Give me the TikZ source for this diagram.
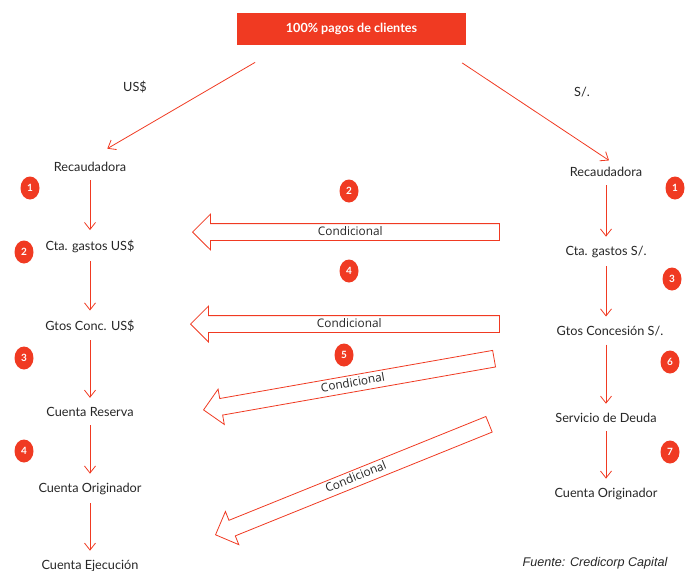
\documentclass[tikz,border=0pt]{standalone}
\usepackage{fontspec}
\setmainfont{Lato}
\newfontfamily\condfont{Open Sans}
\newfontfamily\srcfont{Liberation Sans}
\usepackage{xcolor}
\usetikzlibrary{arrows.meta,shapes.geometric,shapes.arrows}
\definecolor{rojo}{RGB}{240,58,34}

\begin{document}
\begin{tikzpicture}[x=1pt,y=-1pt,
        every node/.style={font=\fontsize{12.7}{14}\selectfont, text=black!85},
        flow/.style={draw=rojo, line width=0.8pt, -{Straight Barb[length=7pt,width=11pt]}},
        num/.style={ellipse, fill=rojo, text=white, font=\bfseries\fontsize{10}{10}\selectfont,
            minimum width=19pt, minimum height=23pt, inner sep=0pt},
        cond/.style={single arrow, draw=rojo, line width=0.8pt, fill=white, shape border rotate=180,
            single arrow head extend=9.5pt, font=\condfont\fontsize{11.8}{12}\selectfont,
            text height=8.5pt, text depth=2.5pt, inner ysep=2.5pt, inner xsep=0pt}]
        \useasboundingbox (0,0) rectangle (687,570);
        \node[fill=rojo, text=white, font=\bfseries\fontsize{12.6}{14}\selectfont,
            minimum width=229pt, minimum height=32pt] (pagos) at (351.5,29) {100\% pagos de clientes};
        \node (usd) at (135,87) {US\$};
        \node (sol) at (582,92) {S/.};
        \node (recL) at (90,167) {Recaudadora};
        \node (ctaL) at (90,246) {Cta. gastos US\$};
        \node (gtoL) at (90,326) {Gtos Conc. US\$};
        \node (resL) at (90,412) {Cuenta Reserva};
        \node (oriL) at (90,489) {Cuenta Originador};
        \node (ejeL) at (90,566) {Cuenta Ejecución};
        \node (recR) at (606,172) {Recaudadora};
        \node (ctaR) at (606,252) {Cta. gastos S/.};
        \node (gtoR) at (610,331) {Gtos Concesión S/.};
        \node (serR) at (606,418) {Servicio de Deuda};
        \node (oriR) at (606,494) {Cuenta Originador};
        \node[num] (n1L) at (30,188) {1};
        \node[num] (n2L) at (24,252) {2};
        \node[num] (n3L) at (24,358) {3};
        \node[num] (n4L) at (24,451) {4};
        \node[num] (n1R) at (675,188) {1};
        \node[num] (n3R) at (672,279) {3};
        \node[num] (n6R) at (670,362) {6};
        \node[num] (n7R) at (670,452) {7};
        \node[num] (n2M) at (349,191) {2};
        \node[num] (n4M) at (349,271) {4};
        \node[num] (n5M) at (344,355) {5};
        \node[cond, minimum height=307pt, anchor=tip] (c1) at (192,232) {Condicional};
        \node[cond, minimum height=309pt, anchor=tip] (c2) at (190,324) {Condicional};
        \node[cond, minimum height=295pt, rotate=10, anchor=tip] (c3) at (203,410) {Condicional};
        \node[cond, minimum height=295pt, rotate=22, anchor=tip] (c4) at (215,535) {Condicional};
        \draw[flow, shorten <=34pt, shorten >=20pt] ([xshift=-67pt]pagos.south) -- (recL.north);
        \draw[flow, shorten <=32pt, shorten >=6pt] ([xshift=84pt]pagos.south) -- ([xshift=8pt]recR.north);
        \draw[flow, shorten <=5pt, shorten >=6pt] (recL) -- (ctaL);
        \draw[flow, shorten <=5pt, shorten >=6pt] (ctaL) -- (gtoL);
        \draw[flow, shorten <=5pt, shorten >=6pt] (gtoL) -- (resL);
        \draw[flow, shorten <=5pt, shorten >=6pt] (resL) -- (oriL);
        \draw[flow, shorten <=5pt, shorten >=6pt] (oriL) -- (ejeL);
        \draw[flow, shorten <=5pt, shorten >=6pt] (recR) -- (ctaR);
        \draw[flow, shorten <=5pt, shorten >=6pt] (ctaR.south) -- (ctaR.south |- gtoR.north);
        \draw[flow, shorten <=5pt, shorten >=6pt] (gtoR.south -| serR) -- (serR.north);
        \draw[flow, shorten <=5pt, shorten >=6pt] (serR) -- (oriR);
        \node[font=\srcfont\itshape\fontsize{12.6}{14}\selectfont] (fuente) at (595,563) {Fuente: Credicorp Capital};
    \end{tikzpicture}
\end{document}
